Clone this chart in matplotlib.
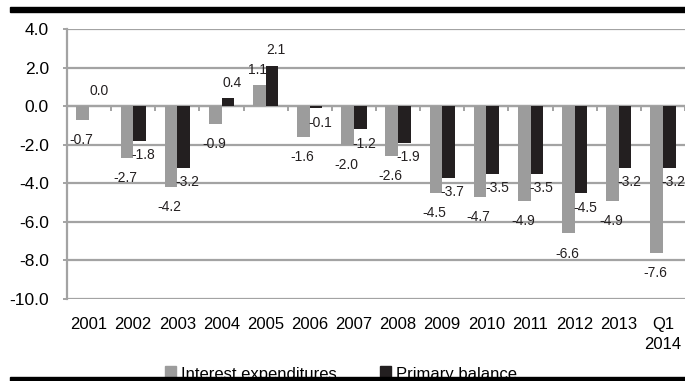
import matplotlib
matplotlib.use("Agg")
import matplotlib.pyplot as plt
from matplotlib.patches import Patch, Rectangle
import numpy as np

plt.rcParams['font.family'] = ['Liberation Sans', 'DejaVu Sans']

# ---- data ---------------------------------------------------------------
periods = ["2001", "2002", "2003", "2004", "2005", "2006", "2007", "2008",
           "2009", "2010", "2011", "2012", "2013", "Q1\n2014"]
interest = [-0.7, -2.7, -4.2, -0.9, 1.1, -1.6, -2.0, -2.6,
            -4.5, -4.7, -4.9, -6.6, -4.9, -7.6]
primary = [0.0, -1.8, -3.2, 0.4, 2.1, -0.1, -1.2, -1.9,
           -3.7, -3.5, -3.5, -4.5, -3.2, -3.2]
yticks = [4, 2, 0, -2, -4, -6, -8, -10]

GREY = "#9c9c9c"
BLACK = "#231f20"
GRID = "#a3a3a3"

fig = plt.figure(figsize=(6.85, 3.81), dpi=100)
ax = fig.add_axes([67 / 685, 1 - 299 / 381, 1 - 67 / 685, 270 / 381])

x = np.arange(len(periods))
bw = 0.285
bg = ax.bar(x - bw / 2, interest, bw, color=GREY, zorder=3)
bp = ax.bar(x + bw / 2, primary, bw, color=BLACK, zorder=3)

# value labels (Excel style: below negatives, above positives)
def label(bars, vals, dx, dneg, dpos):
    for b, v in zip(bars, vals):
        cx = b.get_x() + b.get_width() / 2
        dy = dpos if v >= 0 else dneg
        ax.annotate(f"{v:.1f}", (cx, v), xytext=(dx, dy),
                    textcoords="offset points", ha="center", va="center",
                    fontsize=10, color="#231f20", zorder=5)

label(bg, interest, -1, -14.5, 11)
label(bp, primary, 3, -10.5, 11)

ax.set_xlim(-0.5, len(periods) - 0.5)
ax.set_ylim(-10, 4)
ax.set_yticks(yticks)
ax.set_yticklabels([f"{v:.1f}" for v in yticks])
ax.yaxis.grid(True, color=GRID, linewidth=1.6, zorder=1)
ax.set_axisbelow(True)

# zero line with category separator ticks
ax.axhline(0, color=GRID, linewidth=1.6, zorder=2)
ax.vlines(np.arange(len(periods) + 1) - 0.5, -0.26, 0, color=GRID,
          linewidth=1.4, zorder=2)

ax.set_xticks(x)
ax.set_xticklabels(periods, fontsize=12, linespacing=1.45)
ax.tick_params(axis="x", length=0, pad=13)
ax.tick_params(axis="y", length=3, color=GRID, width=1.4, labelsize=12.5, pad=10)

for s in ["top", "right", "bottom"]:
    ax.spines[s].set_visible(False)
ax.spines["left"].set_color(GRID)
ax.spines["left"].set_linewidth(1.6)

# legend
handles = [Patch(color=GREY, label="Interest expenditures"),
           Patch(color=BLACK, label="Primary balance")]
fig.legend(handles=handles, loc="center", ncol=2, frameon=False,
           bbox_to_anchor=(341 / 685, 1 - 374 / 381), fontsize=12,
           handlelength=0.65, handleheight=0.9, handletextpad=0.3,
           columnspacing=2.6, borderpad=0, borderaxespad=0)

# black rules at top and bottom of the panel
fig.add_artist(Rectangle((10 / 685, 1 - 12 / 381), 675 / 685, 5 / 381,
                         transform=fig.transFigure, color="black", zorder=10))
fig.add_artist(Rectangle((10 / 685, 0), 675 / 685, 4 / 381,
                         transform=fig.transFigure, color="black", zorder=10))

fig.savefig("out.png", dpi=100)
